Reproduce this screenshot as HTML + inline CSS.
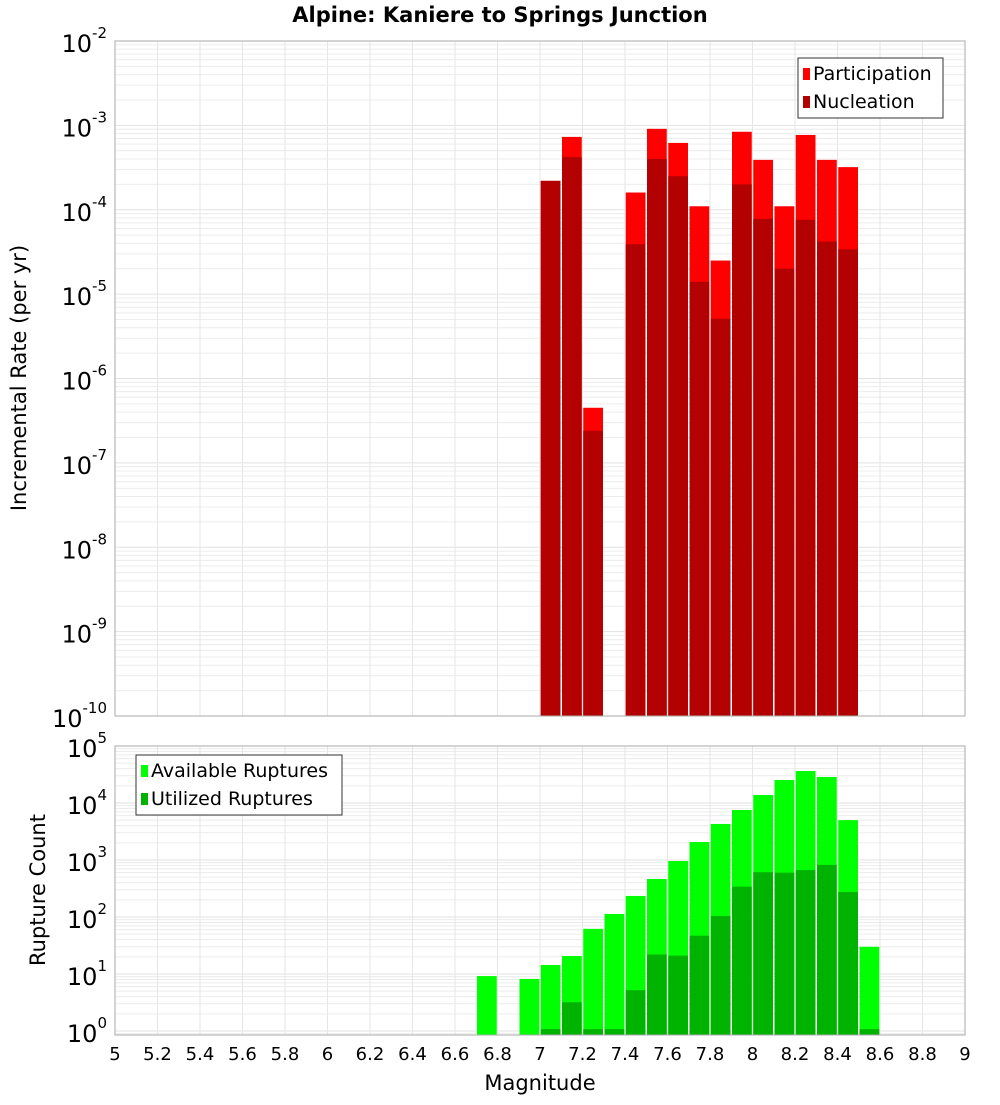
<!DOCTYPE html>
<html><head><meta charset="utf-8"><style>
body{margin:0;background:#fff;}
svg text{font-family:"DejaVu Sans","Liberation Sans",sans-serif;}
</style></head><body>
<svg id="chart" width="1000" height="1100" xmlns="http://www.w3.org/2000/svg">
<text x="500" y="22" text-anchor="middle" font-size="21" font-weight="bold">Alpine: Kaniere to Springs Junction</text>
<g id="topPanel"></g>
<g id="botPanel"></g>
<text x="540" y="1090" text-anchor="middle" font-size="21">Magnitude</text>
<text transform="translate(26,378) rotate(-90)" text-anchor="middle" font-size="21">Incremental Rate (per yr)</text>
<text transform="translate(45,890) rotate(-90)" text-anchor="middle" font-size="21">Rupture Count</text>
</svg>
<script>
const mags = [7.05,7.15,7.25,7.45,7.55,7.65,7.75,7.85,7.95,8.05,8.15,8.25,8.35,8.45];
const participation = [2.2e-4,7.3e-4,4.5e-7,1.6e-4,9.1e-4,6.2e-4,1.1e-4,2.5e-5,8.4e-4,3.9e-4,1.1e-4,7.7e-4,3.9e-4,3.2e-4];
const nucleation = [2.2e-4,4.2e-4,2.4e-7,3.9e-5,4.0e-4,2.5e-4,1.4e-5,5.1e-6,2.0e-4,7.8e-5,2.0e-5,7.6e-5,4.2e-5,3.4e-5];
const countMags = [6.75,6.95,7.05,7.15,7.25,7.35,7.45,7.55,7.65,7.75,7.85,7.95,8.05,8.15,8.25,8.35,8.45,8.55];
const available = [9.2,8.2,14.4,20.7,62,113,234,464,960,2070,4290,7540,13800,25300,36400,28600,5000,30];
const utilized = [0,0,1.08,3.2,1.08,1.08,5.2,22,21,47,104,340,610,600,665,820,275,1.08];
const xTicks = [5,5.2,5.4,5.6,5.8,6,6.2,6.4,6.6,6.8,7,7.2,7.4,7.6,7.8,8,8.2,8.4,8.6,8.8,9];
const topExps = [-2,-3,-4,-5,-6,-7,-8,-9,-10];
const botExps = [5,4,3,2,1,0];

const NS="http://www.w3.org/2000/svg";
const X0=115,X1=965;
const xs=m=>X0+(m-5)*(X1-X0)/4;
const T0=41,T1=716, yTop=v=>T0+(-2-Math.log10(v))*(T1-T0)/8;
const B0=746,B1=1035, yBot=v=>B0+(5-Math.log10(v))*57;
function mk(p,tag,a){const e=document.createElementNS(NS,tag);for(const k in a)e.setAttribute(k,a[k]);p.appendChild(e);return e;}
const topG=document.getElementById('topPanel'),botG=document.getElementById('botPanel');

function panel(g,y0,y1,decades,yf,exps,name){
  const bg=mk(g,'rect',{x:X0,y:y0,width:X1-X0,height:y1-y0,fill:'#fff'});
  
  
  decades.forEach(e=>{for(let k=1;k<10;k++){const y=yf(k*Math.pow(10,e));if(y>=y0&&y<=y1){const l=mk(g,'line',{x1:X0,x2:X1,y1:y,y2:y,stroke:k==1?'#e2e2e2':'#ececec','stroke-width':1});
    
    }}});
  xTicks.forEach(t=>{const l=mk(g,'line',{x1:xs(t),x2:xs(t),y1:y0,y2:y1,stroke:'#e6e6e6'});
    
    });
  exps.forEach(e=>{const t=mk(g,'text',{x:X0-8,y:yf(Math.pow(10,e))+11,'text-anchor':'end','font-size':24});
    
    
    t.textContent='10';
    const s=mk(t,'tspan',{dy:-14,'font-size':15});s.textContent=String(e);});
}
panel(topG,T0,T1,[-3,-4,-5,-6,-7,-8,-9,-10],yTop,topExps,'rate');
panel(botG,B0,B1,[4,3,2,1,0,-1],yBot,botExps,'count');

const bw=(X1-X0)/40-1.5;
mags.forEach((m,i)=>{
  const x=xs(m)-bw/2;
  const a=mk(topG,'rect',{x:x,y:yTop(participation[i]),width:bw,height:T1-yTop(participation[i]),fill:'#ff0000'});
  
  
  const b=mk(topG,'rect',{x:x,y:yTop(nucleation[i]),width:bw,height:T1-yTop(nucleation[i]),fill:'#b30000'});
  
  
});
countMags.forEach((m,i)=>{
  const x=xs(m)-bw/2;
  const a=mk(botG,'rect',{x:x,y:yBot(available[i]),width:bw,height:B1-yBot(available[i]),fill:'#00ff00'});
  
  
  if(utilized[i]>0){const b=mk(botG,'rect',{x:x,y:yBot(utilized[i]),width:bw,height:B1-yBot(utilized[i]),fill:'#00b300'});
  
  }
});
[[topG,T0,T1],[botG,B0,B1]].forEach(([g,a,b])=>{const r=mk(g,'rect',{x:X0,y:a,width:X1-X0,height:b-a,fill:'none',stroke:'#aaa'});
  
  });
xTicks.forEach(t=>{const e=mk(botG,'text',{x:xs(t),y:1060,'text-anchor':'middle','font-size':18});
  
  
  e.textContent=String(t);});

function legend(g,x,y,w,items){
  const box=mk(g,'rect',{x:x,y:y,width:w,height:items.length*28+4,fill:'#fff',stroke:'#333'});
  
  
  items.forEach(([c,l],i)=>{
    const sw=mk(g,'rect',{x:x+5,y:y+10+i*28,width:7,height:12,fill:c});
    
    
    const t=mk(g,'text',{x:x+15,y:y+22+i*28,'font-size':19});
    
    
    t.textContent=l;});
}
legend(topG,798,58,145,[['#ff0000','Participation'],['#b30000','Nucleation']]);
legend(botG,136,755,206,[['#00ff00','Available Ruptures'],['#00b300','Utilized Ruptures']]);
</script>
</body></html>
